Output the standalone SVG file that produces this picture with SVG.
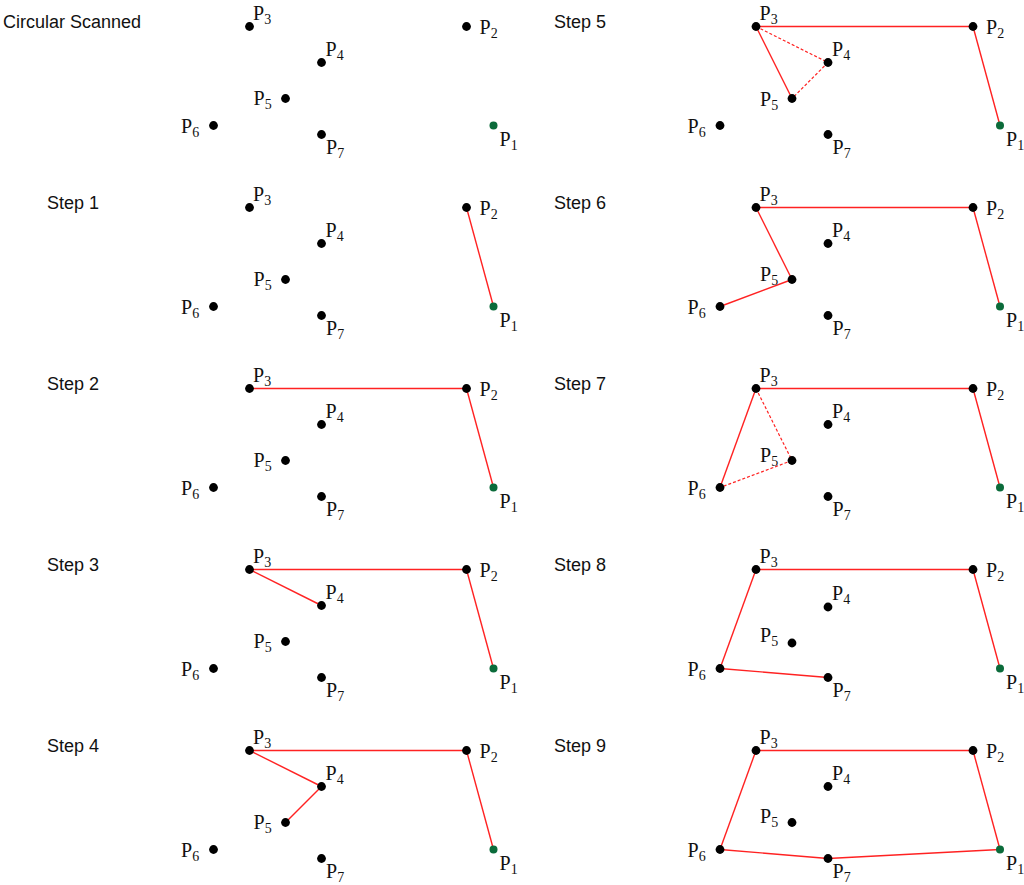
<svg xmlns="http://www.w3.org/2000/svg" width="1024" height="885" viewBox="0 0 1024 885">
<style>
.title{font-family:"Liberation Sans",Arial,sans-serif;font-size:18px;fill:#111}
.lbl{font-family:"Liberation Serif","Times New Roman",serif;font-size:20px;fill:#111}
.sub{font-size:14px}
.dot{fill:#000}
.start{fill:#0b6b3a}
.edge{stroke:#f22;stroke-width:1.4;fill:none}
.dash{stroke:#f22;stroke-width:1.2;fill:none;stroke-dasharray:3 2}
</style>
<rect width="1024" height="885" fill="#fff"/>

<!-- Panel: Circular Scanned -->
<g id="panel0" transform="translate(0,0)">
<text class="title" x="3" y="27.5">Circular Scanned</text>
<g id="p0-P1"><circle class="start" cx="493.5" cy="125.5" r="4"/><text class="lbl" x="499.5" y="145.5">P<tspan class="sub" dy="4">1</tspan></text></g>
<g id="p0-P2"><circle class="dot" cx="466.5" cy="26.5" r="4.4"/><text class="lbl" x="479.5" y="33.5">P<tspan class="sub" dy="4">2</tspan></text></g>
<g id="p0-P3"><circle class="dot" cx="249.5" cy="26.5" r="4.4"/><text class="lbl" x="253" y="19.5">P<tspan class="sub" dy="4">3</tspan></text></g>
<g id="p0-P4"><circle class="dot" cx="321.5" cy="62.5" r="4.4"/><text class="lbl" x="325.5" y="55.5">P<tspan class="sub" dy="4">4</tspan></text></g>
<g id="p0-P5"><circle class="dot" cx="285.5" cy="98.5" r="4.4"/><text class="lbl" x="253.5" y="104.5">P<tspan class="sub" dy="4">5</tspan></text></g>
<g id="p0-P6"><circle class="dot" cx="213.5" cy="125.5" r="4.4"/><text class="lbl" x="181" y="132.5">P<tspan class="sub" dy="4">6</tspan></text></g>
<g id="p0-P7"><circle class="dot" cx="321.5" cy="134.5" r="4.4"/><text class="lbl" x="326" y="154">P<tspan class="sub" dy="4">7</tspan></text></g>
</g>

<!-- Panel: Step 1 -->
<g id="panel1" transform="translate(0,181)">
<text class="title" x="47" y="27.5">Step 1</text>
<g id="p1-connectors">
<line class="edge" x1="493.5" y1="125.5" x2="466.5" y2="26.5"/>
</g>
<g id="p1-P1"><circle class="start" cx="493.5" cy="125.5" r="4"/><text class="lbl" x="499.5" y="145.5">P<tspan class="sub" dy="4">1</tspan></text></g>
<g id="p1-P2"><circle class="dot" cx="466.5" cy="26.5" r="4.4"/><text class="lbl" x="479.5" y="33.5">P<tspan class="sub" dy="4">2</tspan></text></g>
<g id="p1-P3"><circle class="dot" cx="249.5" cy="26.5" r="4.4"/><text class="lbl" x="253" y="19.5">P<tspan class="sub" dy="4">3</tspan></text></g>
<g id="p1-P4"><circle class="dot" cx="321.5" cy="62.5" r="4.4"/><text class="lbl" x="325.5" y="55.5">P<tspan class="sub" dy="4">4</tspan></text></g>
<g id="p1-P5"><circle class="dot" cx="285.5" cy="98.5" r="4.4"/><text class="lbl" x="253.5" y="104.5">P<tspan class="sub" dy="4">5</tspan></text></g>
<g id="p1-P6"><circle class="dot" cx="213.5" cy="125.5" r="4.4"/><text class="lbl" x="181" y="132.5">P<tspan class="sub" dy="4">6</tspan></text></g>
<g id="p1-P7"><circle class="dot" cx="321.5" cy="134.5" r="4.4"/><text class="lbl" x="326" y="154">P<tspan class="sub" dy="4">7</tspan></text></g>
</g>

<!-- Panel: Step 2 -->
<g id="panel2" transform="translate(0,362)">
<text class="title" x="47" y="27.5">Step 2</text>
<g id="p2-connectors">
<line class="edge" x1="493.5" y1="125.5" x2="466.5" y2="26.5"/>
<line class="edge" x1="466.5" y1="26.5" x2="249.5" y2="26.5"/>
</g>
<g id="p2-P1"><circle class="start" cx="493.5" cy="125.5" r="4"/><text class="lbl" x="499.5" y="145.5">P<tspan class="sub" dy="4">1</tspan></text></g>
<g id="p2-P2"><circle class="dot" cx="466.5" cy="26.5" r="4.4"/><text class="lbl" x="479.5" y="33.5">P<tspan class="sub" dy="4">2</tspan></text></g>
<g id="p2-P3"><circle class="dot" cx="249.5" cy="26.5" r="4.4"/><text class="lbl" x="253" y="19.5">P<tspan class="sub" dy="4">3</tspan></text></g>
<g id="p2-P4"><circle class="dot" cx="321.5" cy="62.5" r="4.4"/><text class="lbl" x="325.5" y="55.5">P<tspan class="sub" dy="4">4</tspan></text></g>
<g id="p2-P5"><circle class="dot" cx="285.5" cy="98.5" r="4.4"/><text class="lbl" x="253.5" y="104.5">P<tspan class="sub" dy="4">5</tspan></text></g>
<g id="p2-P6"><circle class="dot" cx="213.5" cy="125.5" r="4.4"/><text class="lbl" x="181" y="132.5">P<tspan class="sub" dy="4">6</tspan></text></g>
<g id="p2-P7"><circle class="dot" cx="321.5" cy="134.5" r="4.4"/><text class="lbl" x="326" y="154">P<tspan class="sub" dy="4">7</tspan></text></g>
</g>

<!-- Panel: Step 3 -->
<g id="panel3" transform="translate(0,543)">
<text class="title" x="47" y="27.5">Step 3</text>
<g id="p3-connectors">
<line class="edge" x1="493.5" y1="125.5" x2="466.5" y2="26.5"/>
<line class="edge" x1="466.5" y1="26.5" x2="249.5" y2="26.5"/>
<line class="edge" x1="249.5" y1="26.5" x2="321.5" y2="62.5"/>
</g>
<g id="p3-P1"><circle class="start" cx="493.5" cy="125.5" r="4"/><text class="lbl" x="499.5" y="145.5">P<tspan class="sub" dy="4">1</tspan></text></g>
<g id="p3-P2"><circle class="dot" cx="466.5" cy="26.5" r="4.4"/><text class="lbl" x="479.5" y="33.5">P<tspan class="sub" dy="4">2</tspan></text></g>
<g id="p3-P3"><circle class="dot" cx="249.5" cy="26.5" r="4.4"/><text class="lbl" x="253" y="19.5">P<tspan class="sub" dy="4">3</tspan></text></g>
<g id="p3-P4"><circle class="dot" cx="321.5" cy="62.5" r="4.4"/><text class="lbl" x="325.5" y="55.5">P<tspan class="sub" dy="4">4</tspan></text></g>
<g id="p3-P5"><circle class="dot" cx="285.5" cy="98.5" r="4.4"/><text class="lbl" x="253.5" y="104.5">P<tspan class="sub" dy="4">5</tspan></text></g>
<g id="p3-P6"><circle class="dot" cx="213.5" cy="125.5" r="4.4"/><text class="lbl" x="181" y="132.5">P<tspan class="sub" dy="4">6</tspan></text></g>
<g id="p3-P7"><circle class="dot" cx="321.5" cy="134.5" r="4.4"/><text class="lbl" x="326" y="154">P<tspan class="sub" dy="4">7</tspan></text></g>
</g>

<!-- Panel: Step 4 -->
<g id="panel4" transform="translate(0,724)">
<text class="title" x="47" y="27.5">Step 4</text>
<g id="p4-connectors">
<line class="edge" x1="493.5" y1="125.5" x2="466.5" y2="26.5"/>
<line class="edge" x1="466.5" y1="26.5" x2="249.5" y2="26.5"/>
<line class="edge" x1="249.5" y1="26.5" x2="321.5" y2="62.5"/>
<line class="edge" x1="321.5" y1="62.5" x2="285.5" y2="98.5"/>
</g>
<g id="p4-P1"><circle class="start" cx="493.5" cy="125.5" r="4"/><text class="lbl" x="499.5" y="145.5">P<tspan class="sub" dy="4">1</tspan></text></g>
<g id="p4-P2"><circle class="dot" cx="466.5" cy="26.5" r="4.4"/><text class="lbl" x="479.5" y="33.5">P<tspan class="sub" dy="4">2</tspan></text></g>
<g id="p4-P3"><circle class="dot" cx="249.5" cy="26.5" r="4.4"/><text class="lbl" x="253" y="19.5">P<tspan class="sub" dy="4">3</tspan></text></g>
<g id="p4-P4"><circle class="dot" cx="321.5" cy="62.5" r="4.4"/><text class="lbl" x="325.5" y="55.5">P<tspan class="sub" dy="4">4</tspan></text></g>
<g id="p4-P5"><circle class="dot" cx="285.5" cy="98.5" r="4.4"/><text class="lbl" x="253.5" y="104.5">P<tspan class="sub" dy="4">5</tspan></text></g>
<g id="p4-P6"><circle class="dot" cx="213.5" cy="125.5" r="4.4"/><text class="lbl" x="181" y="132.5">P<tspan class="sub" dy="4">6</tspan></text></g>
<g id="p4-P7"><circle class="dot" cx="321.5" cy="134.5" r="4.4"/><text class="lbl" x="326" y="154">P<tspan class="sub" dy="4">7</tspan></text></g>
</g>

<!-- Panel: Step 5 -->
<g id="panel5" transform="translate(506.5,0)">
<text class="title" x="47.5" y="27.5">Step 5</text>
<g id="p5-connectors">
<line class="edge" x1="493.5" y1="125.5" x2="466.5" y2="26.5"/>
<line class="edge" x1="466.5" y1="26.5" x2="249.5" y2="26.5"/>
<line class="edge" x1="249.5" y1="26.5" x2="285.5" y2="98.5"/>
<line class="dash" x1="249.5" y1="26.5" x2="321.5" y2="62.5"/>
<line class="dash" x1="321.5" y1="62.5" x2="285.5" y2="98.5"/>
</g>
<g id="p5-P1"><circle class="start" cx="493.5" cy="125.5" r="4"/><text class="lbl" x="499.5" y="145.5">P<tspan class="sub" dy="4">1</tspan></text></g>
<g id="p5-P2"><circle class="dot" cx="466.5" cy="26.5" r="4.4"/><text class="lbl" x="479.5" y="33.5">P<tspan class="sub" dy="4">2</tspan></text></g>
<g id="p5-P3"><circle class="dot" cx="249.5" cy="26.5" r="4.4"/><text class="lbl" x="253" y="19.5">P<tspan class="sub" dy="4">3</tspan></text></g>
<g id="p5-P4"><circle class="dot" cx="321.5" cy="62.5" r="4.4"/><text class="lbl" x="325.5" y="55.5">P<tspan class="sub" dy="4">4</tspan></text></g>
<g id="p5-P5"><circle class="dot" cx="285.5" cy="98.5" r="4.4"/><text class="lbl" x="253.5" y="106">P<tspan class="sub" dy="4">5</tspan></text></g>
<g id="p5-P6"><circle class="dot" cx="213.5" cy="125.5" r="4.4"/><text class="lbl" x="181" y="132.5">P<tspan class="sub" dy="4">6</tspan></text></g>
<g id="p5-P7"><circle class="dot" cx="321.5" cy="134.5" r="4.4"/><text class="lbl" x="326" y="154">P<tspan class="sub" dy="4">7</tspan></text></g>
</g>

<!-- Panel: Step 6 -->
<g id="panel6" transform="translate(506.5,181)">
<text class="title" x="47.5" y="27.5">Step 6</text>
<g id="p6-connectors">
<line class="edge" x1="493.5" y1="125.5" x2="466.5" y2="26.5"/>
<line class="edge" x1="466.5" y1="26.5" x2="249.5" y2="26.5"/>
<line class="edge" x1="249.5" y1="26.5" x2="285.5" y2="98.5"/>
<line class="edge" x1="285.5" y1="98.5" x2="213.5" y2="125.5"/>
</g>
<g id="p6-P1"><circle class="start" cx="493.5" cy="125.5" r="4"/><text class="lbl" x="499.5" y="145.5">P<tspan class="sub" dy="4">1</tspan></text></g>
<g id="p6-P2"><circle class="dot" cx="466.5" cy="26.5" r="4.4"/><text class="lbl" x="479.5" y="33.5">P<tspan class="sub" dy="4">2</tspan></text></g>
<g id="p6-P3"><circle class="dot" cx="249.5" cy="26.5" r="4.4"/><text class="lbl" x="253" y="19.5">P<tspan class="sub" dy="4">3</tspan></text></g>
<g id="p6-P4"><circle class="dot" cx="321.5" cy="62.5" r="4.4"/><text class="lbl" x="325.5" y="55.5">P<tspan class="sub" dy="4">4</tspan></text></g>
<g id="p6-P5"><circle class="dot" cx="285.5" cy="98.5" r="4.4"/><text class="lbl" x="253.5" y="100">P<tspan class="sub" dy="4">5</tspan></text></g>
<g id="p6-P6"><circle class="dot" cx="213.5" cy="125.5" r="4.4"/><text class="lbl" x="181" y="132.5">P<tspan class="sub" dy="4">6</tspan></text></g>
<g id="p6-P7"><circle class="dot" cx="321.5" cy="134.5" r="4.4"/><text class="lbl" x="326" y="154">P<tspan class="sub" dy="4">7</tspan></text></g>
</g>

<!-- Panel: Step 7 -->
<g id="panel7" transform="translate(506.5,362)">
<text class="title" x="47.5" y="27.5">Step 7</text>
<g id="p7-connectors">
<line class="edge" x1="493.5" y1="125.5" x2="466.5" y2="26.5"/>
<line class="edge" x1="466.5" y1="26.5" x2="249.5" y2="26.5"/>
<line class="edge" x1="249.5" y1="26.5" x2="213.5" y2="125.5"/>
<line class="dash" x1="249.5" y1="26.5" x2="285.5" y2="98.5"/>
<line class="dash" x1="285.5" y1="98.5" x2="213.5" y2="125.5"/>
</g>
<g id="p7-P1"><circle class="start" cx="493.5" cy="125.5" r="4"/><text class="lbl" x="499.5" y="145.5">P<tspan class="sub" dy="4">1</tspan></text></g>
<g id="p7-P2"><circle class="dot" cx="466.5" cy="26.5" r="4.4"/><text class="lbl" x="479.5" y="33.5">P<tspan class="sub" dy="4">2</tspan></text></g>
<g id="p7-P3"><circle class="dot" cx="249.5" cy="26.5" r="4.4"/><text class="lbl" x="253" y="19.5">P<tspan class="sub" dy="4">3</tspan></text></g>
<g id="p7-P4"><circle class="dot" cx="321.5" cy="62.5" r="4.4"/><text class="lbl" x="325.5" y="55.5">P<tspan class="sub" dy="4">4</tspan></text></g>
<g id="p7-P5"><circle class="dot" cx="285.5" cy="98.5" r="4.4"/><text class="lbl" x="253.5" y="100">P<tspan class="sub" dy="4">5</tspan></text></g>
<g id="p7-P6"><circle class="dot" cx="213.5" cy="125.5" r="4.4"/><text class="lbl" x="181" y="132.5">P<tspan class="sub" dy="4">6</tspan></text></g>
<g id="p7-P7"><circle class="dot" cx="321.5" cy="134.5" r="4.4"/><text class="lbl" x="326" y="154">P<tspan class="sub" dy="4">7</tspan></text></g>
</g>

<!-- Panel: Step 8 -->
<g id="panel8" transform="translate(506.5,543)">
<text class="title" x="47.5" y="27.5">Step 8</text>
<g id="p8-connectors">
<line class="edge" x1="493.5" y1="125.5" x2="466.5" y2="26.5"/>
<line class="edge" x1="466.5" y1="26.5" x2="249.5" y2="26.5"/>
<line class="edge" x1="249.5" y1="26.5" x2="213.5" y2="125.5"/>
<line class="edge" x1="213.5" y1="125.5" x2="321.5" y2="134.5"/>
</g>
<g id="p8-P1"><circle class="start" cx="493.5" cy="125.5" r="4"/><text class="lbl" x="499.5" y="145.5">P<tspan class="sub" dy="4">1</tspan></text></g>
<g id="p8-P2"><circle class="dot" cx="466.5" cy="26.5" r="4.4"/><text class="lbl" x="479.5" y="33.5">P<tspan class="sub" dy="4">2</tspan></text></g>
<g id="p8-P3"><circle class="dot" cx="249.5" cy="26.5" r="4.4"/><text class="lbl" x="253" y="19.5">P<tspan class="sub" dy="4">3</tspan></text></g>
<g id="p8-P4"><circle class="dot" cx="321.5" cy="64" r="4.4"/><text class="lbl" x="325.5" y="56.5">P<tspan class="sub" dy="4">4</tspan></text></g>
<g id="p8-P5"><circle class="dot" cx="285.5" cy="100" r="4.4"/><text class="lbl" x="253.5" y="99">P<tspan class="sub" dy="4">5</tspan></text></g>
<g id="p8-P6"><circle class="dot" cx="213.5" cy="125.5" r="4.4"/><text class="lbl" x="181" y="132.5">P<tspan class="sub" dy="4">6</tspan></text></g>
<g id="p8-P7"><circle class="dot" cx="321.5" cy="134.5" r="4.4"/><text class="lbl" x="326" y="154">P<tspan class="sub" dy="4">7</tspan></text></g>
</g>

<!-- Panel: Step 9 -->
<g id="panel9" transform="translate(506.5,724)">
<text class="title" x="47.5" y="27.5">Step 9</text>
<g id="p9-connectors">
<line class="edge" x1="493.5" y1="125.5" x2="466.5" y2="26.5"/>
<line class="edge" x1="466.5" y1="26.5" x2="249.5" y2="26.5"/>
<line class="edge" x1="249.5" y1="26.5" x2="213.5" y2="125.5"/>
<line class="edge" x1="213.5" y1="125.5" x2="321.5" y2="134.5"/>
<line class="edge" x1="321.5" y1="134.5" x2="493.5" y2="125.5"/>
</g>
<g id="p9-P1"><circle class="start" cx="493.5" cy="125.5" r="4"/><text class="lbl" x="499.5" y="145.5">P<tspan class="sub" dy="4">1</tspan></text></g>
<g id="p9-P2"><circle class="dot" cx="466.5" cy="26.5" r="4.4"/><text class="lbl" x="479.5" y="33.5">P<tspan class="sub" dy="4">2</tspan></text></g>
<g id="p9-P3"><circle class="dot" cx="249.5" cy="26.5" r="4.4"/><text class="lbl" x="253" y="19.5">P<tspan class="sub" dy="4">3</tspan></text></g>
<g id="p9-P4"><circle class="dot" cx="321.5" cy="62.5" r="4.4"/><text class="lbl" x="325.5" y="55.5">P<tspan class="sub" dy="4">4</tspan></text></g>
<g id="p9-P5"><circle class="dot" cx="285.5" cy="98.5" r="4.4"/><text class="lbl" x="253.5" y="99">P<tspan class="sub" dy="4">5</tspan></text></g>
<g id="p9-P6"><circle class="dot" cx="213.5" cy="125.5" r="4.4"/><text class="lbl" x="181" y="132.5">P<tspan class="sub" dy="4">6</tspan></text></g>
<g id="p9-P7"><circle class="dot" cx="321.5" cy="134.5" r="4.4"/><text class="lbl" x="326" y="154">P<tspan class="sub" dy="4">7</tspan></text></g>
</g>
</svg>
